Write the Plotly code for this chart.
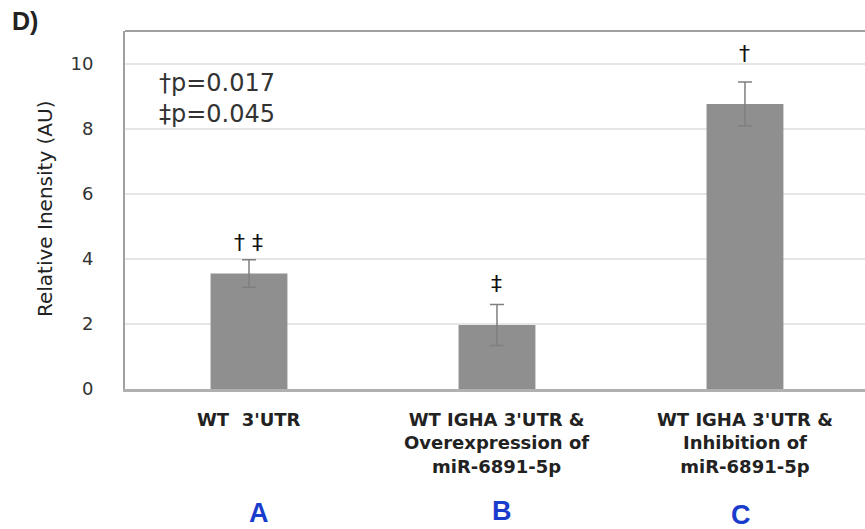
import plotly.graph_objects as go

categories = ["WT  3'UTR",
              "WT IGHA 3'UTR &<br>Overexpression of<br>miR-6891-5p",
              "WT IGHA 3'UTR &<br>Inhibition of<br>miR-6891-5p"]
values = [3.55, 1.97, 8.76]
errors = [0.42, 0.63, 0.67]
marks = ["† ‡", "‡", "†"]
mark_y = [4.5, 3.25, 10.3]
letters = ["A", "B", "C"]
y_ticks = [0, 2, 4, 6, 8, 10]

xs = list(range(len(categories)))

fig = go.Figure()
fig.add_trace(go.Bar(
    x=xs, y=values, width=0.31,
    marker=dict(color="#8f8f8f", line=dict(width=0)),
    error_y=dict(type="data", array=errors, visible=True,
                 color="#7f7f7f", thickness=1.5, width=7),
    hoverinfo="skip",
))

letter_shift = [10, 5, -4]
letter_yshift = [0, 2, -2]

annotations = []
for i, c in enumerate(categories):
    annotations.append(dict(x=i, y=-0.05, xref="x", yref="paper", text="<b>" + c + "</b>",
                            showarrow=False, yanchor="top", xanchor="center",
                            font=dict(family="DejaVu Sans", size=18, color="#222222")))
    annotations.append(dict(x=i, y=-0.345, xref="x", yref="paper", text="<b>" + letters[i] + "</b>",
                            showarrow=False, yanchor="middle", xanchor="center",
                            xshift=letter_shift[i], yshift=letter_yshift[i],
                            font=dict(family="Liberation Sans", size=27, color="#1a3ccc")))
    annotations.append(dict(x=i, y=mark_y[i], xref="x", yref="y", text=marks[i],
                            showarrow=False, yanchor="middle", xanchor="center",
                            font=dict(family="DejaVu Sans", size=22, color="#111111")))

# p-values text
annotations.append(dict(x=-0.37, y=8.94, xref="x", yref="y", xanchor="left", yanchor="middle",
                        text="†p=0.017<br>‡p=0.045", showarrow=False, align="left",
                        font=dict(family="DejaVu Sans", size=24, color="#333333")))
# panel label
annotations.append(dict(x=-0.155, y=1.028, xref="paper", yref="paper", xanchor="left", yanchor="middle",
                        text="<b>D)</b>", showarrow=False,
                        font=dict(family="Liberation Sans", size=25, color="#222222")))
# y title
annotations.append(dict(x=-0.108, y=0.503, xref="paper", yref="paper", xanchor="center", yanchor="middle",
                        text="Relative Inensity (AU)", textangle=-90, showarrow=False,
                        font=dict(family="DejaVu Sans", size=20, color="#222222")))

fig.update_layout(
    width=865, height=529,
    margin=dict(l=125, r=0, t=31, b=140),
    paper_bgcolor="white", plot_bgcolor="white",
    showlegend=False,
    annotations=annotations,
    xaxis=dict(range=[-0.5, 2.484], showticklabels=False, showgrid=False, zeroline=False,
               showline=True, linecolor="#b0b0b0", linewidth=2.5, ticks=""),
    yaxis=dict(range=[0, 11], tickvals=y_ticks, showgrid=True, gridcolor="#e6e6e6", gridwidth=1.5,
               zeroline=False, showline=True, linecolor="#a0a0a0", linewidth=2,
               ticks="", ticklabelstandoff=26,
               tickfont=dict(family="DejaVu Sans", size=18, color="#333333")),
    shapes=[dict(type="line", xref="paper", yref="paper", x0=0, x1=1, y0=1, y1=1,
                 line=dict(color="#a0a0a0", width=2))],
)

fig.write_html("out.html")
